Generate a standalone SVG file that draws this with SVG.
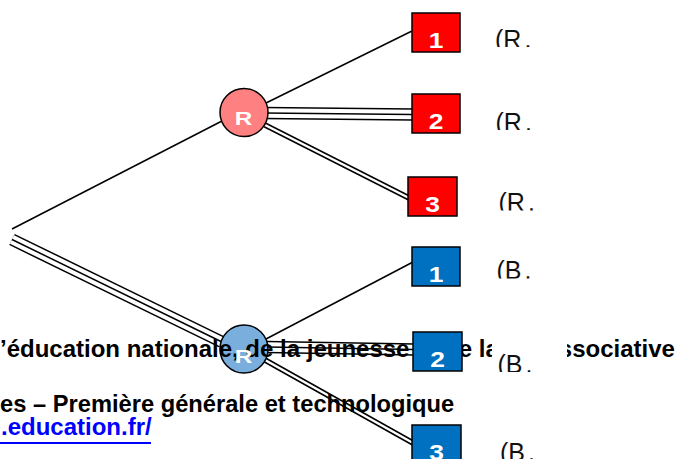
<svg xmlns="http://www.w3.org/2000/svg" width="676" height="459" viewBox="0 0 676 459">
<style>
.bg{font-family:"Liberation Sans",Arial,sans-serif;font-weight:bold;fill:#000}
.s{stroke:#000;stroke-width:1.5;fill:none}
.d1{stroke:#000;stroke-width:5.5}
.d2{stroke:#fff;stroke-width:2.5}
.t1{stroke:#000;stroke-width:12.5}
.t2{stroke:#fff;stroke-width:9.5}
.t3{stroke:#000;stroke-width:1.5}
.box{stroke:#000;stroke-width:1.5}
.red{fill:#FF0000}
.blue{fill:#0070C0}
.num{font-family:"Liberation Sans",Arial,sans-serif;font-weight:bold;font-size:22px;fill:#fff;text-anchor:middle}
.lbl{font-family:"Liberation Sans",Arial,sans-serif;font-size:25px;fill:#111}
.circ{stroke:#000;stroke-width:1.5}
.cl{font-family:"Liberation Sans",Arial,sans-serif;font-weight:bold;font-size:18px;fill:#fff;text-anchor:middle}
</style>

<g id="connectors">
<line class="s" x1="12" y1="229" x2="221" y2="121.5"/>
<line class="s" x1="265" y1="103.5" x2="412" y2="31"/>
<g>
<line class="t1" x1="264" y1="113" x2="412" y2="114.5"/>
<line class="t2" x1="264" y1="113" x2="412" y2="114.5"/>
<line class="t3" x1="264" y1="113" x2="412" y2="114.5"/>
</g>
<g>
<line class="d1" x1="265" y1="125" x2="410" y2="198.5"/>
<line class="d2" x1="265" y1="125" x2="410" y2="198.5"/>
</g>
<g>
<line class="t1" x1="12" y1="239.5" x2="222" y2="342"/>
<line class="t2" x1="12" y1="239.5" x2="222" y2="342"/>
<line class="t3" x1="12" y1="239.5" x2="222" y2="342"/>
</g>
<line class="s" x1="266" y1="339" x2="413" y2="262"/>
<g>
<line class="t1" x1="267" y1="347" x2="414" y2="349.5"/>
<line class="t2" x1="267" y1="347" x2="414" y2="349.5"/>
<line class="t3" x1="267" y1="347" x2="414" y2="349.5"/>
</g>
<g>
<line class="d1" x1="265" y1="360" x2="413" y2="443"/>
<line class="d2" x1="265" y1="360" x2="413" y2="443"/>
</g>
</g>

<g id="circleR">
<ellipse class="circ" cx="244" cy="112.5" rx="24" ry="24" fill="#FF8080"/>
</g>
<g id="circleB">
<ellipse class="circ" cx="244" cy="349" rx="24" ry="24" fill="#7AAFDD"/>
</g>

<g id="background-text">
<text class="bg" x="0" y="357" font-size="24">’éducation nationale, de la jeunesse et de la vie associative</text>
<text class="bg" x="0" y="412" font-size="23.7">es – Première générale et technologique</text>
<text class="bg" x="1" y="435" font-size="24" style="fill:#0000FF">.education.fr/</text>
<line x1="0" y1="443" x2="151" y2="443" stroke="#0000FF" stroke-width="2"/>
</g>

<g id="circle-labels">
<text class="cl" transform="translate(243.5 125) scale(1.35 1)">R</text>
<text class="cl" transform="translate(243.5 363) scale(1.35 1)">R</text>
</g>

<g id="r1"><rect class="box red" x="412" y="13" width="48" height="39"/><text class="num" transform="translate(436 47.5) scale(1.2 1)">1</text></g>
<g id="r2"><rect class="box red" x="412" y="94" width="48" height="39"/><text class="num" transform="translate(436 128.5) scale(1.2 1)">2</text></g>
<g id="r3"><rect class="box red" x="408" y="177" width="49" height="39"/><text class="num" transform="translate(432.5 211.5) scale(1.2 1)">3</text></g>
<g id="b1"><rect class="box blue" x="412" y="247" width="48" height="39"/><text class="num" transform="translate(436 281.5) scale(1.2 1)">1</text></g>
<g id="b2"><rect class="box blue" x="413" y="332" width="49" height="39"/><text class="num" transform="translate(437.5 366.5) scale(1.2 1)">2</text></g>
<g id="b3"><rect class="box blue" x="412" y="425" width="49" height="39"/><text class="num" transform="translate(436.5 459.5) scale(1.2 1)">3</text></g>

<g id="labels">
<svg x="492" y="7" width="75" height="40"><rect width="75" height="40" fill="#fff"/><text class="lbl" x="3" y="41">(R<tspan dx="3">.</tspan></text></svg>
<svg x="492" y="90" width="75" height="40"><rect width="75" height="40" fill="#fff"/><text class="lbl" x="3.5" y="40.5">(R<tspan dx="3">.</tspan></text></svg>
<svg x="492" y="170.5" width="75" height="40"><rect width="75" height="40" fill="#fff"/><text class="lbl" x="6.5" y="40.5">(R<tspan dx="3">.</tspan></text></svg>
<svg x="492" y="238.5" width="75" height="40"><rect width="75" height="40" fill="#fff"/><text class="lbl" x="4.5" y="40.5">(B<tspan dx="3">.</tspan></text></svg>
<svg x="492" y="332" width="75" height="40"><rect width="75" height="40" fill="#fff"/><text class="lbl" x="5.5" y="40.5">(B<tspan dx="3">.</tspan></text></svg>
<svg x="492" y="421" width="75" height="40"><rect width="75" height="40" fill="#fff"/><text class="lbl" x="8" y="40">(B<tspan dx="3">.</tspan></text></svg>
</g>
</svg>
